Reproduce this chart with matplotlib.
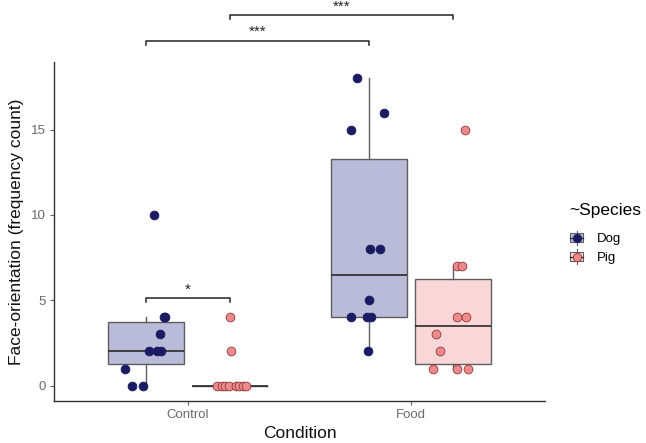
import numpy as np
import matplotlib.pyplot as plt
from matplotlib.patches import Rectangle
from matplotlib.lines import Line2D
from matplotlib.legend_handler import HandlerBase

plt.rcParams['font.family'] = ['Liberation Sans', 'DejaVu Sans']

# data
conditions = ["Control", "Food"]
species = ["Dog", "Pig"]

control_dog = [10, 4, 4, 3, 2, 2, 2, 1, 0, 0]
control_dog_x = [0.846, 0.891, 0.898, 0.876, 0.824, 0.860, 0.879, 0.719, 0.749, 0.801]
control_pig = [4, 2, 0, 0, 0, 0, 0, 0, 0, 0]
control_pig_x = [1.190, 1.193, 1.130, 1.151, 1.166, 1.185, 1.215, 1.230, 1.245, 1.260]
food_dog = [18, 16, 15, 8, 8, 5, 4, 4, 4, 2]
food_dog_x = [1.757, 1.879, 1.731, 1.816, 1.861, 1.813, 1.731, 1.801, 1.821, 1.809]
food_pig = [15, 7, 7, 4, 4, 3, 2, 1, 1, 1]
food_pig_x = [2.241, 2.206, 2.227, 2.206, 2.245, 2.113, 2.129, 2.099, 2.205, 2.257]

box_fill = {"Dog": "#b9bbd9", "Pig": "#f9d6d8"}
pt_fill = {"Dog": "#1b1b63", "Pig": "#f08a8a"}
pt_edge = {"Dog": "#1b1b63", "Pig": "#8a3a3a"}

groups = [
    (control_dog, control_dog_x, "Dog", 1 - 0.1875),
    (control_pig, control_pig_x, "Pig", 1 + 0.1875),
    (food_dog, food_dog_x, "Dog", 2 - 0.1875),
    (food_pig, food_pig_x, "Pig", 2 + 0.1875),
]

fig = plt.figure(figsize=(6.46, 4.43), dpi=100)
ax = fig.add_axes([54 / 646, 42 / 443, 491 / 646, 339 / 443])

for vals, xs, sp, pos in groups:
    ax.boxplot([vals], positions=[pos], widths=0.34, showfliers=False,
               showcaps=False, patch_artist=True, whis=1.5,
               boxprops=dict(facecolor=box_fill[sp], edgecolor="#5e5e5e", linewidth=1.0),
               whiskerprops=dict(color="#5e5e5e", linewidth=1.0),
               medianprops=dict(color="#2a2a2a", linewidth=1.2),
               zorder=2)
    ax.scatter(xs, vals, s=40, c=pt_fill[sp], edgecolors=pt_edge[sp],
               linewidths=0.6, zorder=3)

# significance brackets
def bracket(x1, x2, y, label, dy=0.2, ty=0.32):
    ax.plot([x1, x1, x2, x2], [y - dy, y, y, y - dy], color="#222222",
            linewidth=1.1, clip_on=False, zorder=4)
    ax.text((x1 + x2) / 2, y + ty, label, ha="center", va="baseline",
            fontsize=11, color="#222222", clip_on=False)

bracket(1 - 0.1875, 1 + 0.1875, 5.12, "*", ty=0.26)
bracket(1 - 0.1875, 2 - 0.1875, 20.17, "***")
bracket(1 + 0.1875, 2 + 0.1875, 21.7, "***", ty=0.25)

ax.set_xlim(0.4, 2.6)
ax.set_ylim(-0.9, 18.96)
ax.set_xticks([1, 2])
ax.set_xticklabels(conditions)
ax.set_yticks([0, 5, 10, 15])
for s in ["top", "right"]:
    ax.spines[s].set_visible(False)
for s in ["left", "bottom"]:
    ax.spines[s].set_color("#333333")
    ax.spines[s].set_linewidth(1.0)
ax.tick_params(colors="#666666", labelsize=9.5, length=3, width=0.8,
               labelcolor="#6a6a6a", pad=3)
ax.set_xlabel("Condition", fontsize=12.5, color="#111111", labelpad=3)
ax.set_ylabel("Face-orientation (frequency count)", fontsize=12.5,
              color="#111111", labelpad=5)


class KeyHandle:
    def __init__(self, sp):
        self.sp = sp


class BoxKeyHandler(HandlerBase):
    def create_artists(self, legend, orig_handle, xdescent, ydescent,
                       width, height, fontsize, trans):
        sp = orig_handle.sp
        cx = width / 2 - xdescent
        cy = height / 2 - ydescent
        rect = Rectangle((-xdescent + 1, cy - height * 0.3), width - 2,
                         height * 0.6, facecolor=box_fill[sp],
                         edgecolor="#5e5e5e", linewidth=0.8, transform=trans)
        vline = Line2D([cx, cx], [-ydescent, height - ydescent],
                       color="#5e5e5e", linewidth=0.8, transform=trans)
        hline = Line2D([-xdescent + 1, width - xdescent - 1], [cy, cy],
                       color="#2a2a2a", linewidth=0.9, transform=trans)
        dot = Line2D([cx], [cy], marker="o", markersize=6, linestyle="",
                     markerfacecolor=pt_fill[sp], markeredgecolor=pt_edge[sp],
                     markeredgewidth=0.6, transform=trans)
        return [rect, vline, hline, dot]


handles = [KeyHandle(sp) for sp in species]
leg = fig.legend(handles, species, handler_map={KeyHandle: BoxKeyHandler()},
                 loc="upper left", bbox_to_anchor=(569 / 646, 1 - 203 / 443),
                 frameon=False, title="~Species", fontsize=9.5,
                 title_fontsize=12.5, handlelength=1.15, handleheight=1.35,
                 handletextpad=1.0, labelspacing=0.3, borderaxespad=0,
                 borderpad=0)
leg._legend_box.align = "left"
leg._legend_box.sep = 9

fig.savefig("out.png", dpi=100)
